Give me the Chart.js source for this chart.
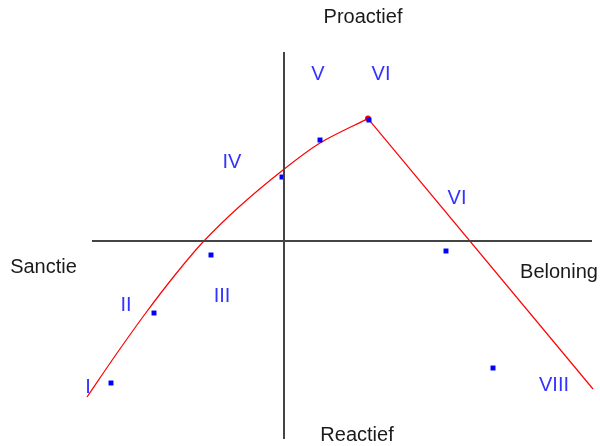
<!DOCTYPE html>
<html>
<head>
<meta charset="utf-8">
<script src="https://cdn.jsdelivr.net/npm/chart.js@4"></script>
<style>
  html, body { margin: 0; padding: 0; background: #fff; }
  #wrap { width: 600px; height: 446px; position: relative; }
</style>
</head>
<body>
<div id="wrap"><canvas id="chart"></canvas></div>
<script>
// kwadranten: x = Sanctie (-) / Beloning (+), y = Reactief (-) / Proactief (+)
const curveX = [-4.925, -4.225, -3.475, -2.725, -2.025, -1.1, -0.025, 0.9, 2.1];
const curveY = [-3.9, -2.875, -1.825, -0.85, -0.025, 0.875, 1.775, 2.45, 3.06];

const dropX = [2.1, 7.725];
const dropY = [3.06, -3.7];

const pointX = [-4.325, -3.25, -1.825, -0.05, 0.9, 2.125, 4.05, 5.225];
const pointY = [-3.55, -1.8, -0.35, 1.6, 2.525, 3.025, -0.25, -3.175];

const peak = { x: 2.1, y: 3.06 };

const phaseLabels = ["I", "II", "III", "IV", "V", "VI", "VI", "VIII"];
const phaseX = [-4.9, -3.95, -1.55, -1.3, 0.85, 2.425, 4.325, 6.75];
const phaseY = [-3.65, -1.6, -1.375, 1.975, 4.175, 4.175, 1.075, -3.6];

const axisTitles = ["Proactief", "Reactief", "Sanctie", "Beloning"];
const axisTitleX = [1.975, 1.825, -6.0125, 6.875];
const axisTitleY = [5.5875, -4.85, -0.65, -0.775];

const xAxisRange = [-4.8, 7.7];
const yAxisRange = [-4.95, 4.725];

const textPlugin = {
  id: "quadrantText",
  afterDatasetsDraw(chart) {
    const { ctx, scales } = chart;
    ctx.save();
    ctx.font = "20px 'Liberation Sans', Arial, sans-serif";
    ctx.textAlign = "center";
    ctx.textBaseline = "middle";
    ctx.fillStyle = "#3333ff";
    phaseLabels.forEach((t, i) => {
      ctx.fillText(t, scales.x.getPixelForValue(phaseX[i]), scales.y.getPixelForValue(phaseY[i]));
    });
    ctx.fillStyle = "#1a1a1a";
    axisTitles.forEach((t, i) => {
      ctx.fillText(t, scales.x.getPixelForValue(axisTitleX[i]), scales.y.getPixelForValue(axisTitleY[i]));
    });
    ctx.restore();
  }
};

new Chart(document.getElementById("chart").getContext("2d"), {
  type: "scatter",
  data: {
    datasets: [
      {
        type: "line",
        data: xAxisRange.map(x => ({ x, y: 0 })),
        borderColor: "#444",
        borderWidth: 2,
        pointRadius: 0
      },
      {
        type: "line",
        data: yAxisRange.map(y => ({ x: 0, y })),
        borderColor: "#444",
        borderWidth: 2,
        pointRadius: 0
      },
      {
        data: pointX.map((x, i) => ({ x, y: pointY[i] })),
        pointStyle: "rect",
        pointRadius: 3.5,
        backgroundColor: "#0000ff",
        borderWidth: 0
      },
      {
        type: "line",
        data: curveX.map((x, i) => ({ x, y: curveY[i] })),
        borderColor: "#ff0000",
        borderWidth: 1.2,
        pointRadius: 0,
        tension: 0.3
      },
      {
        type: "line",
        data: dropX.map((x, i) => ({ x, y: dropY[i] })),
        borderColor: "#ff0000",
        borderWidth: 1.2,
        pointRadius: 0,
        tension: 0
      },
      {
        data: [peak],
        pointRadius: 3,
        backgroundColor: "#ff0000",
        borderWidth: 0
      }
    ]
  },
  options: {
    responsive: true,
    maintainAspectRatio: false,
    animation: false,
    layout: { padding: 0, autoPadding: false },
    plugins: { legend: { display: false }, tooltip: { enabled: false } },
    scales: {
      x: { type: "linear", min: -7.1, max: 7.9, display: false },
      y: { type: "linear", min: -5.125, max: 6.025, display: false }
    }
  },
  plugins: [textPlugin]
});
</script>
</body>
</html>
